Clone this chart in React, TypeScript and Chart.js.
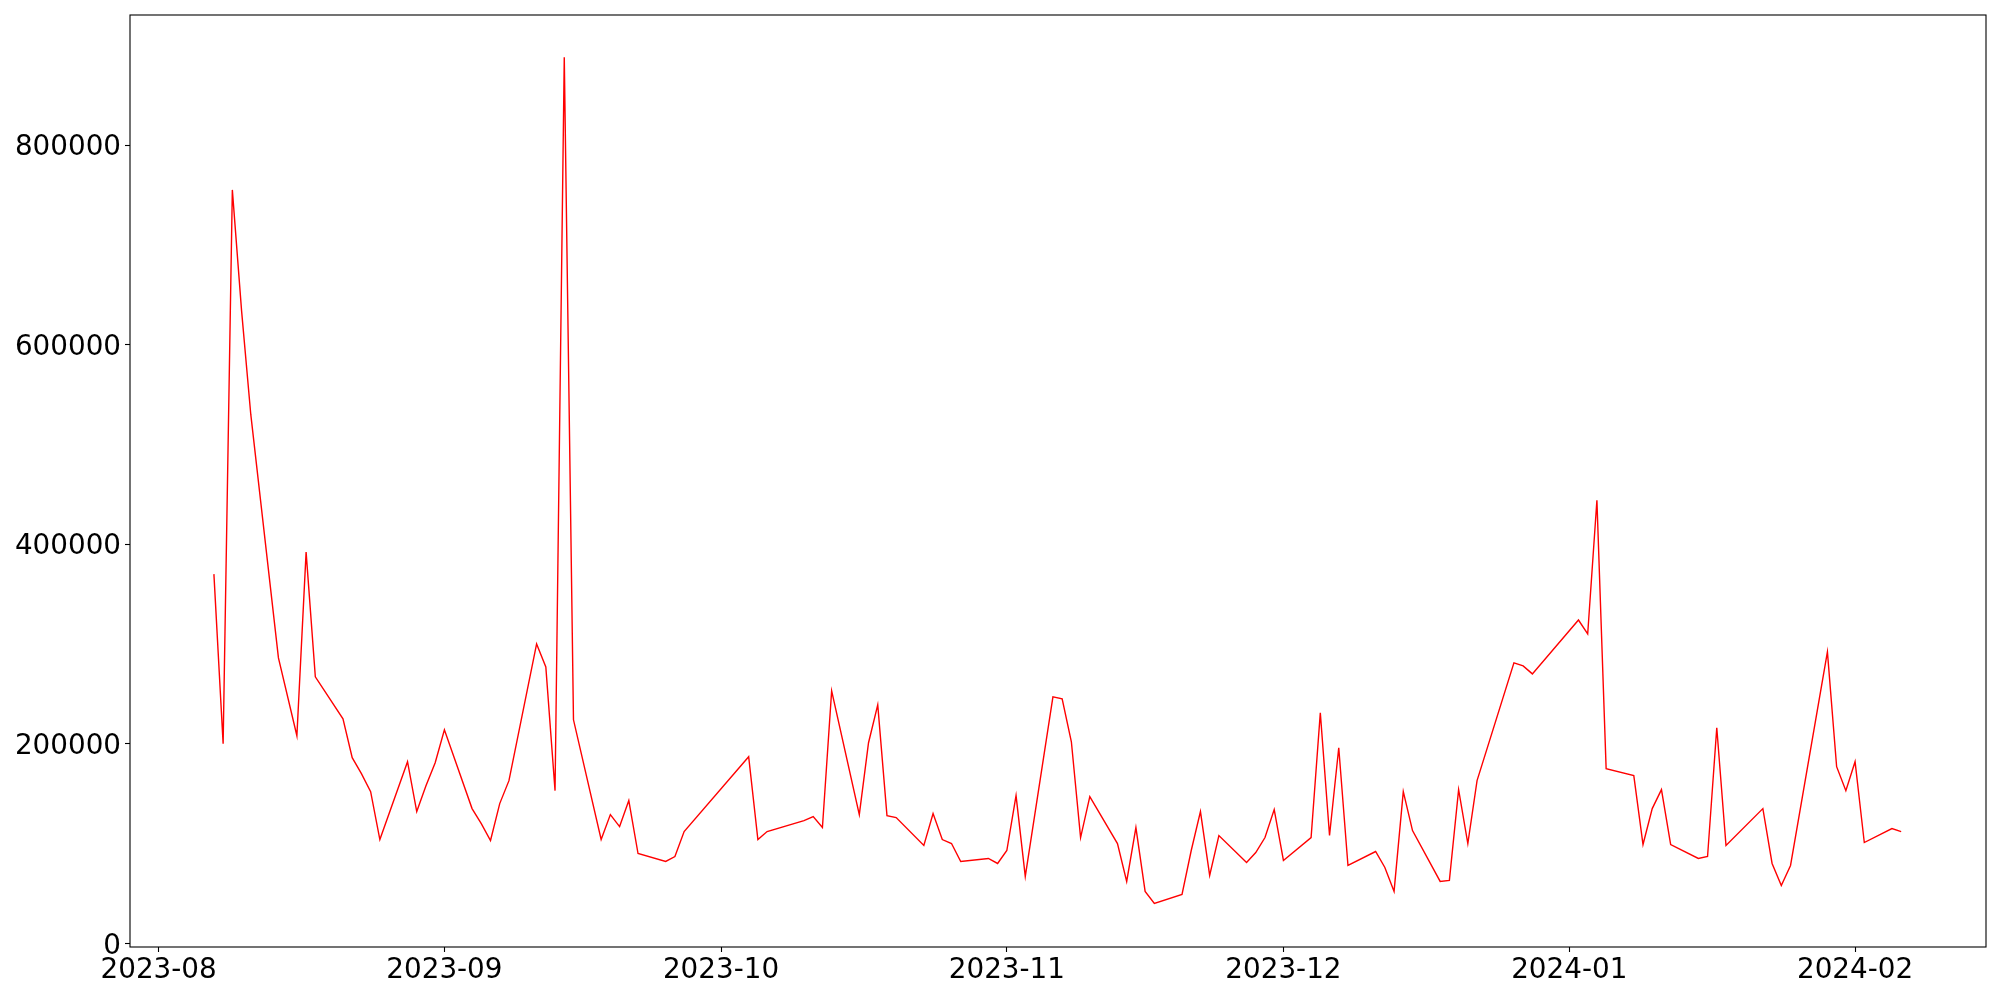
import React, { useEffect, useRef } from "react";
import { Chart, registerables } from "chart.js";

Chart.register(...registerables);

const dates: string[] = [
  "2023-08-07", "2023-08-08", "2023-08-09", "2023-08-10", "2023-08-11",
  "2023-08-14", "2023-08-16", "2023-08-17", "2023-08-18",
  "2023-08-21", "2023-08-22", "2023-08-23", "2023-08-24", "2023-08-25",
  "2023-08-28", "2023-08-29", "2023-08-30", "2023-08-31", "2023-09-01",
  "2023-09-04", "2023-09-05", "2023-09-06", "2023-09-07", "2023-09-08",
  "2023-09-11", "2023-09-12", "2023-09-13", "2023-09-14", "2023-09-15",
  "2023-09-18", "2023-09-19", "2023-09-20", "2023-09-21", "2023-09-22",
  "2023-09-25", "2023-09-26", "2023-09-27",
  "2023-10-04", "2023-10-05", "2023-10-06",
  "2023-10-10", "2023-10-11", "2023-10-12", "2023-10-13",
  "2023-10-16", "2023-10-17", "2023-10-18", "2023-10-19", "2023-10-20",
  "2023-10-23", "2023-10-24", "2023-10-25", "2023-10-26", "2023-10-27",
  "2023-10-30", "2023-10-31", "2023-11-01", "2023-11-02", "2023-11-03",
  "2023-11-06", "2023-11-07", "2023-11-08", "2023-11-09", "2023-11-10",
  "2023-11-13", "2023-11-14", "2023-11-15", "2023-11-16", "2023-11-17",
  "2023-11-20", "2023-11-21", "2023-11-22", "2023-11-23", "2023-11-24",
  "2023-11-27", "2023-11-28", "2023-11-29", "2023-11-30", "2023-12-01",
  "2023-12-04", "2023-12-05", "2023-12-06", "2023-12-07", "2023-12-08",
  "2023-12-11", "2023-12-12", "2023-12-13", "2023-12-14", "2023-12-15",
  "2023-12-18", "2023-12-19", "2023-12-20", "2023-12-21", "2023-12-22",
  "2023-12-26", "2023-12-27", "2023-12-28",
  "2024-01-02", "2024-01-03", "2024-01-04", "2024-01-05",
  "2024-01-08", "2024-01-09", "2024-01-10", "2024-01-11", "2024-01-12",
  "2024-01-15", "2024-01-16", "2024-01-17", "2024-01-18",
  "2024-01-22", "2024-01-23", "2024-01-24", "2024-01-25",
  "2024-01-29", "2024-01-30", "2024-01-31", "2024-02-01", "2024-02-02",
  "2024-02-05", "2024-02-06",
];

const values: number[] = [
  370000, 200000, 755000, 634000, 530000,
  286000, 208000, 392000, 267000,
  225000, 186000, 170000, 152000, 104000,
  182000, 132000, 158000, 181000, 214000,
  135000, 120000, 103000, 140000, 163000,
  300000, 277000, 153000, 888000, 224000,
  104000, 129000, 117000, 143000, 90000,
  82000, 87000, 112000,
  187000, 104000, 112000,
  123000, 127000, 116000, 253000,
  129000, 201000, 239000, 128000, 126000,
  98000, 130000, 104000, 100000, 82000,
  85000, 80000, 93000, 148000, 67000,
  247000, 245000, 202000, 106000, 147000,
  100000, 62000, 116000, 52000, 40000,
  49000, 93000, 132000, 68000, 108000,
  81000, 91000, 106000, 134000, 83000,
  106000, 231000, 108000, 196000, 78000,
  92000, 76000, 52000, 152000, 113000,
  62000, 63000, 154000, 100000, 163000,
  281000, 278000, 270000,
  324000, 310000, 444000, 175000,
  168000, 99000, 135000, 154000, 99000,
  85000, 87000, 216000, 98000,
  135000, 80000, 58000, 78000,
  292000, 177000, 153000, 182000, 101000,
  115000, 112000,
];

const xTickLabels: string[] = [
  "2023-08", "2023-09", "2023-10", "2023-11", "2023-12", "2024-01", "2024-02",
];

const yTickValues: number[] = [0, 200000, 400000, 600000, 800000];

const DAY_MS = 86400000;
const dayNum = (s: string): number => {
  const [y, m, d] = s.split("-").map(Number);
  return Date.UTC(y, m - 1, d || 1) / DAY_MS;
};

const FONT = { family: "'DejaVu Sans', sans-serif", size: 27.8 };

export default function App() {
  const canvasRef = useRef<HTMLCanvasElement | null>(null);

  useEffect(() => {
    const canvas = canvasRef.current;
    if (!canvas) return;
    const xTicks = xTickLabels.map((l) => dayNum(l + "-01"));
    const origin = dayNum("2023-08-01");
    const points = dates.map((d, i) => ({ x: dayNum(d), y: values[i] }));

    const frame = {
      id: "frame",
      afterDatasetsDraw(chart: any) {
        const { ctx, chartArea } = chart;
        ctx.save();
        ctx.strokeStyle = "#000";
        ctx.lineWidth = 1.1;
        ctx.strokeRect(
          chartArea.left,
          chartArea.top,
          chartArea.right - chartArea.left,
          chartArea.bottom - chartArea.top
        );
        ctx.restore();
      },
    };

    const chart = new Chart(canvas, {
      type: "line",
      data: {
        datasets: [
          {
            data: points,
            borderColor: "#ff0000",
            backgroundColor: "#ff0000",
            borderWidth: 1.4,
            pointRadius: 0,
            tension: 0,
            fill: false,
          },
        ],
      },
      options: {
        animation: false,
        responsive: false,
        devicePixelRatio: 1,
        layout: { padding: { top: 15, right: 14, left: 0, bottom: 0 } },
        plugins: {
          legend: { display: false },
          tooltip: { enabled: false },
        },
        scales: {
          x: {
            type: "linear",
            min: origin - 3.1,
            max: origin + 198.2,
            afterBuildTicks: (scale: any) => {
              scale.ticks = xTicks.map((v) => ({ value: v }));
            },
            afterFit: (scale: any) => {
              scale.height = 53;
              scale.paddingLeft = 0;
              scale.paddingRight = 0;
            },
            ticks: {
              autoSkip: false,
              maxRotation: 0,
              minRotation: 0,
              color: "#000",
              font: FONT,
              padding: 2,
              callback: (_v: any, i: number) => xTickLabels[i],
            },
            grid: {
              drawOnChartArea: false,
              drawTicks: true,
              tickLength: 5,
              tickWidth: 1.1,
              tickColor: "#000",
            },
            border: { display: false },
          },
          y: {
            type: "linear",
            min: -3700,
            max: 930300,
            afterBuildTicks: (scale: any) => {
              scale.ticks = yTickValues.map((v) => ({ value: v }));
            },
            afterFit: (scale: any) => {
              scale.width = 130;
              scale.paddingTop = 0;
              scale.paddingBottom = 0;
            },
            ticks: {
              color: "#000",
              font: FONT,
              padding: 4,
              labelOffset: 3,
              callback: (v: any) => String(v),
            },
            grid: {
              drawOnChartArea: false,
              drawTicks: true,
              tickLength: 5,
              tickWidth: 1.1,
              tickColor: "#000",
            },
            border: { display: false },
          },
        },
      },
      plugins: [frame],
    } as any);

    return () => {
      chart.destroy();
    };
  }, []);

  return (
    <div
      style={{
        position: "absolute",
        left: 0,
        top: 0,
        width: 2000,
        height: 1000,
        background: "#fff",
      }}
    >
      <canvas ref={canvasRef} width={2000} height={1000} style={{ width: 2000, height: 1000 }} />
    </div>
  );
}
